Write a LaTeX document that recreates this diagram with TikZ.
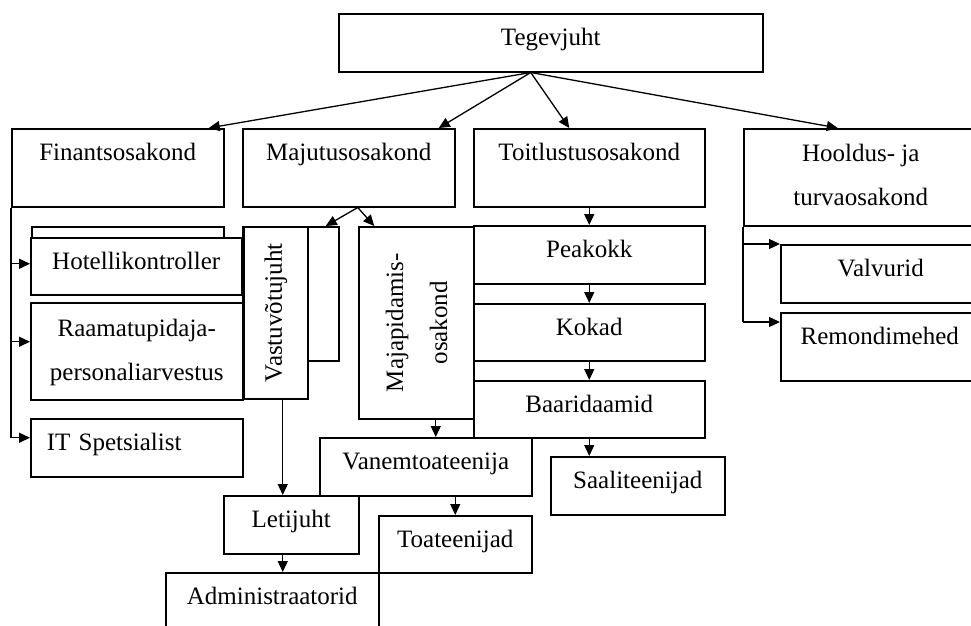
\documentclass[tikz,border=0pt]{standalone}
\usepackage{fontspec}
\setmainfont{Liberation Serif}
\usepackage{graphicx}
\usepackage{tikz}
\usetikzlibrary{arrows.meta}

\begin{document}
\begin{tikzpicture}[x=1pt,y=-1pt,
		unit/.style={draw,fill=white,line width=1.5pt,inner sep=0pt,anchor=north west,font=\fontsize{25}{44}\selectfont},
		oneline/.style={text height=32pt,text depth=#1},
		link/.style={line width=1.3pt,-{Triangle[length=11pt,width=10pt]}},
		trunk/.style={line width=1.3pt}]
	\useasboundingbox (0,0) rectangle (971,625);

	% juht
	\node[unit,oneline=26pt,minimum width=424pt] (tegev) at (338,13) {Tegevjuht};

	% osakonnad
	\node[unit,oneline=46pt,minimum width=212pt] (finants) at (11,128) {Finantsosakond};
	\node[unit,oneline=46pt,minimum width=212pt] (majut) at (242,128) {Majutusosakond};
	\node[unit,oneline=46pt,minimum width=231pt] (toit) at (473,128) {Toitlustusosakond};
	\node[unit,align=center,text height=77pt,text depth=20pt,minimum width=234pt] (hool) at (743,128) {Hooldus- ja\\turvaosakond};

	% finantsosakond
	\node[unit,minimum width=192pt,minimum height=50pt] (hotback) at (31,226) {};
	\node[unit,oneline=25pt,minimum width=211pt] (hot) at (30,237) {Hotellikontroller};
	\node[unit,align=center,text height=78pt,text depth=19pt,minimum width=212pt] (raam) at (30,302) {Raamatupidaja-\\personaliarvestus};
	\node[unit,oneline=26pt,inner xsep=16pt,text width=180pt,align=left] (it) at (30,418) {IT Spetsialist};

	% majutusosakond
	\node[unit,minimum width=96pt,minimum height=134pt] (vastback) at (242,226) {};
	\node[unit,minimum width=64pt,minimum height=172pt] (vast) at (243,226) {\rotatebox{90}{Vastuvõtujuht}};
	\node[unit,minimum width=115pt,minimum height=192pt] (maja) at (358,226) {\rotatebox{90}{\begin{tabular}{@{}c@{}}Majapidamis-\\osakond\end{tabular}}\hspace{14pt}};
	\node[unit,oneline=26pt,minimum width=212pt] (van) at (319,437) {Vanemtoateenija};
	\node[unit,oneline=26pt,minimum width=135pt] (leti) at (223,495) {Letijuht};
	\node[unit,oneline=25pt,minimum width=153pt] (toa) at (378,515) {Toateenijad};
	\node[unit,oneline=38pt,minimum width=213pt] (adm) at (165,572) {Administraatorid};

	% toitlustusosakond
	\node[unit,oneline=26pt,minimum width=231pt] (peak) at (473,225) {Peakokk};
	\node[unit,oneline=25pt,minimum width=231pt] (kok) at (473,303) {Kokad};
	\node[unit,oneline=25pt,minimum width=231pt] (baar) at (473,380) {Baaridaamid};
	\node[unit,oneline=26pt,minimum width=174pt] (saal) at (550,456) {Saaliteenijad};

	% hooldus- ja turvaosakond
	\node[unit,oneline=26pt,minimum width=200pt] (valv) at (780,244) {Valvurid};
	\node[unit,oneline=36pt,minimum width=198pt] (rem) at (780,312) {Remondimehed};

	% juhilt osakondadele
	\coordinate (tegout) at ([xshift=-20pt]tegev.south);
	\draw[link] (tegout) -- ([xshift=91pt]finants.north);
	\draw[link] (tegout) -- ([xshift=90pt]majut.north);
	\draw[link] (tegout) -- ([xshift=-20pt]toit.north);
	\draw[link] (tegout) -- ([xshift=-23pt]hool.north);

	% finantsosakonna haru
	\coordinate (hotin) at ([yshift=2.5pt]hot.west);
	\coordinate (raamin) at ([yshift=9.5pt]raam.west);
	\coordinate (itin) at ([yshift=10pt]it.west);
	\draw[trunk] (finants.south west) -- (finants.south west |- itin);
	\draw[link] (finants.south west |- hotin) -- (hotin);
	\draw[link] (finants.south west |- raamin) -- (raamin);
	\draw[link] (finants.south west |- itin) -- (itin);

	% majutusosakonna haru
	\coordinate (majout) at ([xshift=9pt]majut.south);
	\draw[link] (majout) -- ([xshift=35pt]vastback.north);
	\draw[link] (majout) -- ([xshift=-42pt]maja.north);
	\coordinate (vastout) at ([xshift=7pt]vast.south);
	\draw[link] (vastout) -- (vastout |- leti.north);
	\coordinate (letiout) at ([xshift=-8.5pt]leti.south);
	\draw[link] (letiout) -- (letiout |- adm.north);
	\coordinate (majaout) at ([xshift=19.5pt]maja.south);
	\draw[link] (majaout) -- (majaout |- van.north);
	\draw[link] (van.south -| toa.north) -- (toa.north);

	% toitlustusosakonna haru
	\draw[link] (toit.south) -- (peak.north);
	\draw[link] (peak.south) -- (kok.north);
	\draw[link] (kok.south) -- (baar.north);
	\draw[link] (baar.south) -- (baar.south |- saal.north);

	% hooldusosakonna haru
	\coordinate (valvin) at (valv.north west);
	\coordinate (remin) at ([yshift=-10pt]rem.north west);
	\draw[trunk] (hool.south west) -- (hool.south west |- remin);
	\draw[link] (hool.south west |- valvin) -- (valvin);
	\draw[link] (hool.south west |- remin) -- (remin);
\end{tikzpicture}
\end{document}
